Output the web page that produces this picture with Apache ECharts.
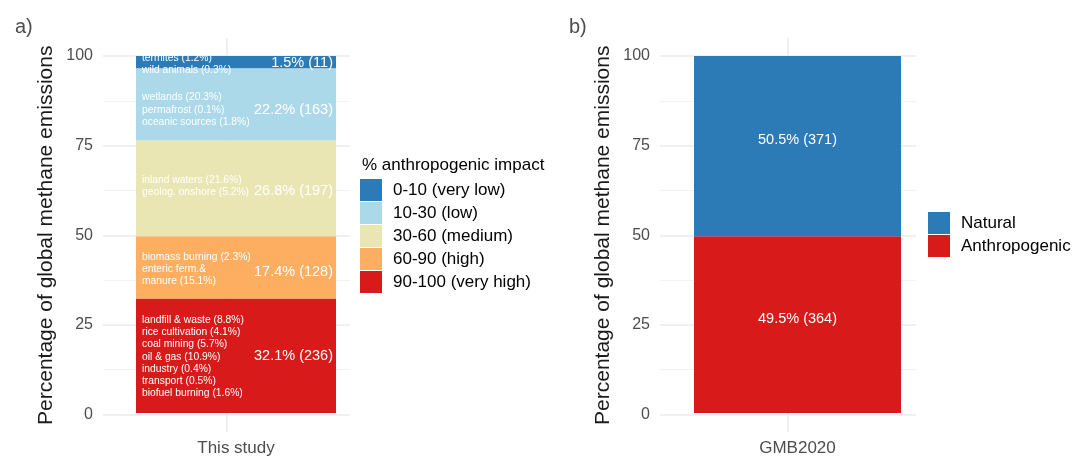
<!DOCTYPE html>
<html>
<head>
<meta charset="utf-8">
<script src="https://cdn.jsdelivr.net/npm/echarts@6/dist/echarts.min.js"></script>
<style>
  html, body { margin: 0; padding: 0; background: #fff; }
  #chart { width: 1073px; height: 457px; }
</style>
</head>
<body>
<div id="chart"></div>
<script>
// ---------- data ----------
const studyCategories = ['This study'];
const impactClasses = ['0-10 (very low)', '10-30 (low)', '30-60 (medium)', '60-90 (high)', '90-100 (very high)'];
const impactShares = [1.5, 22.2, 26.8, 17.4, 32.1];       // labelled % of global emissions
const impactBarHeights = [3.4, 20.3, 26.8, 17.4, 32.1];   // segment heights as drawn in the picture
const impactTg = [11, 163, 197, 128, 236];                // Tg CH4 / yr
const impactSources = [
  ['termites (1.2%)', 'wild animals (0.3%)'],
  ['wetlands (20.3%)', 'permafrost (0.1%)', 'oceanic sources (1.8%)'],
  ['inland waters (21.6%)', 'geolog. onshore (5.2%)'],
  ['biomass burning (2.3%)', 'enteric ferm.&', 'manure (15.1%)'],
  ['landfill & waste (8.8%)', 'rice cultivation (4.1%)', 'coal mining (5.7%)', 'oil & gas (10.9%)', 'industry (0.4%)', 'transport (0.5%)', 'biofuel burning (1.6%)']
];
const gmbCategories = ['GMB2020'];
const gmbClasses = ['Natural', 'Anthropogenic'];
const gmbShares = [50.5, 49.5];
const gmbTg = [371, 364];

// ---------- styles ----------
const FONT = 'Liberation Sans, Arial, Helvetica, sans-serif';
const impactColors = ['#2C7BB6', '#ABD9E9', '#EAE6B3', '#FDAE61', '#D91A1A'];
const gmbColors = ['#2C7BB6', '#D91A1A'];
const mainLabelDy = [1, 5.5, 3, 5, 0];
const subLabelDy = [2.4, 5.5, -2, 2, 1];
const gmbLabelDy = [-6, -6];

const TOP = 56, BOTTOM = 457 - 414.5;
const PTOP = 38, PBOTTOM = 25;

const majorLine = { show: true, lineStyle: { color: '#EBEBEB', width: 1.6 } };
const minorLine = { show: true, lineStyle: { color: '#F2F2F2', width: 0.9 } };

function valueAxis(gridIndex) {
  return {
    type: 'value', gridIndex, min: 0, max: 100, interval: 25,
    axisLine: { show: false }, axisTick: { show: false },
    axisLabel: { show: true, color: '#4D4D4D', fontSize: 16, fontFamily: FONT, margin: 10 },
    splitLine: majorLine,
    minorTick: { show: false, splitNumber: 2 },
    minorSplitLine: minorLine,
    name: 'Percentage of global methane emissions',
    nameLocation: 'middle', nameGap: 46,
    nameTextStyle: { color: '#1A1A1A', fontSize: 21, fontFamily: FONT }
  };
}
function hiddenValueAxis(gridIndex) {
  return { type: 'value', gridIndex, min: 0, max: 100, show: false, splitLine: { show: false } };
}
function vGridAxis(gridIndex) {
  return {
    type: 'category', gridIndex, data: ['', '', ''], boundaryGap: false,
    axisLine: { show: false }, axisTick: { show: false }, axisLabel: { show: false },
    splitLine: { show: true, interval: (i) => i === 1, lineStyle: { color: '#EBEBEB', width: 1.6 } }
  };
}
function barCatAxis(gridIndex, data) {
  return {
    type: 'category', gridIndex, data,
    axisLine: { show: false }, axisTick: { show: false },
    axisLabel: { color: '#4D4D4D', fontSize: 17, fontFamily: FONT, margin: 27 },
    splitLine: { show: false }
  };
}

const series = [];
// left panel stacked bars (bottom to top)
for (let k = impactClasses.length - 1; k >= 0; k--) {
  series.push({
    type: 'bar', name: impactClasses[k], xAxisIndex: 2, yAxisIndex: 2, stack: 'fill',
    barWidth: '100%', barGap: '-100%',
    data: [impactBarHeights[k]],
    itemStyle: { color: impactColors[k] },
    label: {
      show: true, position: 'insideRight', distance: 3, offset: [0, mainLabelDy[k]],
      formatter: impactShares[k].toFixed(1) + '% (' + impactTg[k] + ')',
      color: '#FFFFFF', fontSize: 14.5, fontFamily: FONT
    },
    silent: true
  });
}
for (let k = impactClasses.length - 1; k >= 0; k--) {
  series.push({
    type: 'bar', name: 'src' + k, xAxisIndex: 2, yAxisIndex: 2, stack: 'sources',
    barWidth: '100%', barGap: '-100%',
    data: [impactBarHeights[k]],
    itemStyle: { color: 'rgba(0,0,0,0)' },
    label: {
      show: true, position: 'insideLeft', distance: 6, offset: [0, subLabelDy[k]],
      formatter: impactSources[k].join('\n'),
      color: '#FFFFFF', fontSize: 10.3, lineHeight: 12.3, fontFamily: FONT, align: 'left'
    },
    silent: true, z: 5
  });
}
// right panel stacked bars (bottom: Anthropogenic)
for (let k = gmbClasses.length - 1; k >= 0; k--) {
  series.push({
    type: 'bar', name: gmbClasses[k], xAxisIndex: 5, yAxisIndex: 5, stack: 'gmb',
    barWidth: '100%',
    data: [gmbShares[k]],
    itemStyle: { color: gmbColors[k] },
    label: {
      show: true, position: 'inside', offset: [0, gmbLabelDy[k]],
      formatter: gmbShares[k].toFixed(1) + '% (' + gmbTg[k] + ')',
      color: '#FFFFFF', fontSize: 14.5, fontFamily: FONT
    },
    silent: true
  });
}

const legendText = { color: '#000000', fontSize: 17, fontFamily: FONT, padding: [0, 0, 0, 6] };

const option = {
  animation: false,
  backgroundColor: '#FFFFFF',
  textStyle: { fontFamily: FONT },
  title: [
    { text: 'a)', left: 10, top: 12, textStyle: { fontSize: 20, fontWeight: 'normal', color: '#4D4D4D', fontFamily: FONT } },
    { text: 'b)', left: 564, top: 12, textStyle: { fontSize: 20, fontWeight: 'normal', color: '#4D4D4D', fontFamily: FONT } },
    { text: '% anthropogenic impact', left: 357, top: 152, textStyle: { fontSize: 17, fontWeight: 'normal', color: '#000000', fontFamily: FONT } }
  ],
  grid: [
    { left: 103, width: 247, top: TOP, bottom: BOTTOM },      // 0 left axes
    { left: 103, width: 247, top: PTOP, bottom: PBOTTOM },    // 1 left vertical grid line
    { left: 136, width: 200, top: TOP, bottom: BOTTOM },      // 2 left bar
    { left: 660, width: 256, top: TOP, bottom: BOTTOM },      // 3 right axes
    { left: 660, width: 256, top: PTOP, bottom: PBOTTOM },    // 4 right vertical grid line
    { left: 694, width: 207, top: TOP, bottom: BOTTOM }       // 5 right bar
  ],
  xAxis: [
    { type: 'category', gridIndex: 0, data: [''], show: false },
    vGridAxis(1),
    barCatAxis(2, studyCategories),
    { type: 'category', gridIndex: 3, data: [''], show: false },
    vGridAxis(4),
    barCatAxis(5, gmbCategories)
  ],
  yAxis: [
    valueAxis(0),
    { type: 'value', gridIndex: 1, show: false, splitLine: { show: false } },
    hiddenValueAxis(2),
    valueAxis(3),
    { type: 'value', gridIndex: 4, show: false, splitLine: { show: false } },
    hiddenValueAxis(5)
  ],
  legend: [
    {
      data: impactClasses, orient: 'vertical', left: 360, top: 179,
      itemWidth: 22, itemHeight: 22, itemGap: 1, icon: 'rect',
      textStyle: legendText, selectedMode: false, padding: 0
    },
    {
      data: gmbClasses, orient: 'vertical', left: 928, top: 212,
      itemWidth: 22, itemHeight: 22, itemGap: 1, icon: 'rect',
      textStyle: legendText, selectedMode: false, padding: 0
    }
  ],
  series
};

const chart = echarts.init(document.getElementById('chart'), null, { renderer: 'canvas' });
chart.setOption(option);
</script>
</body>
</html>
